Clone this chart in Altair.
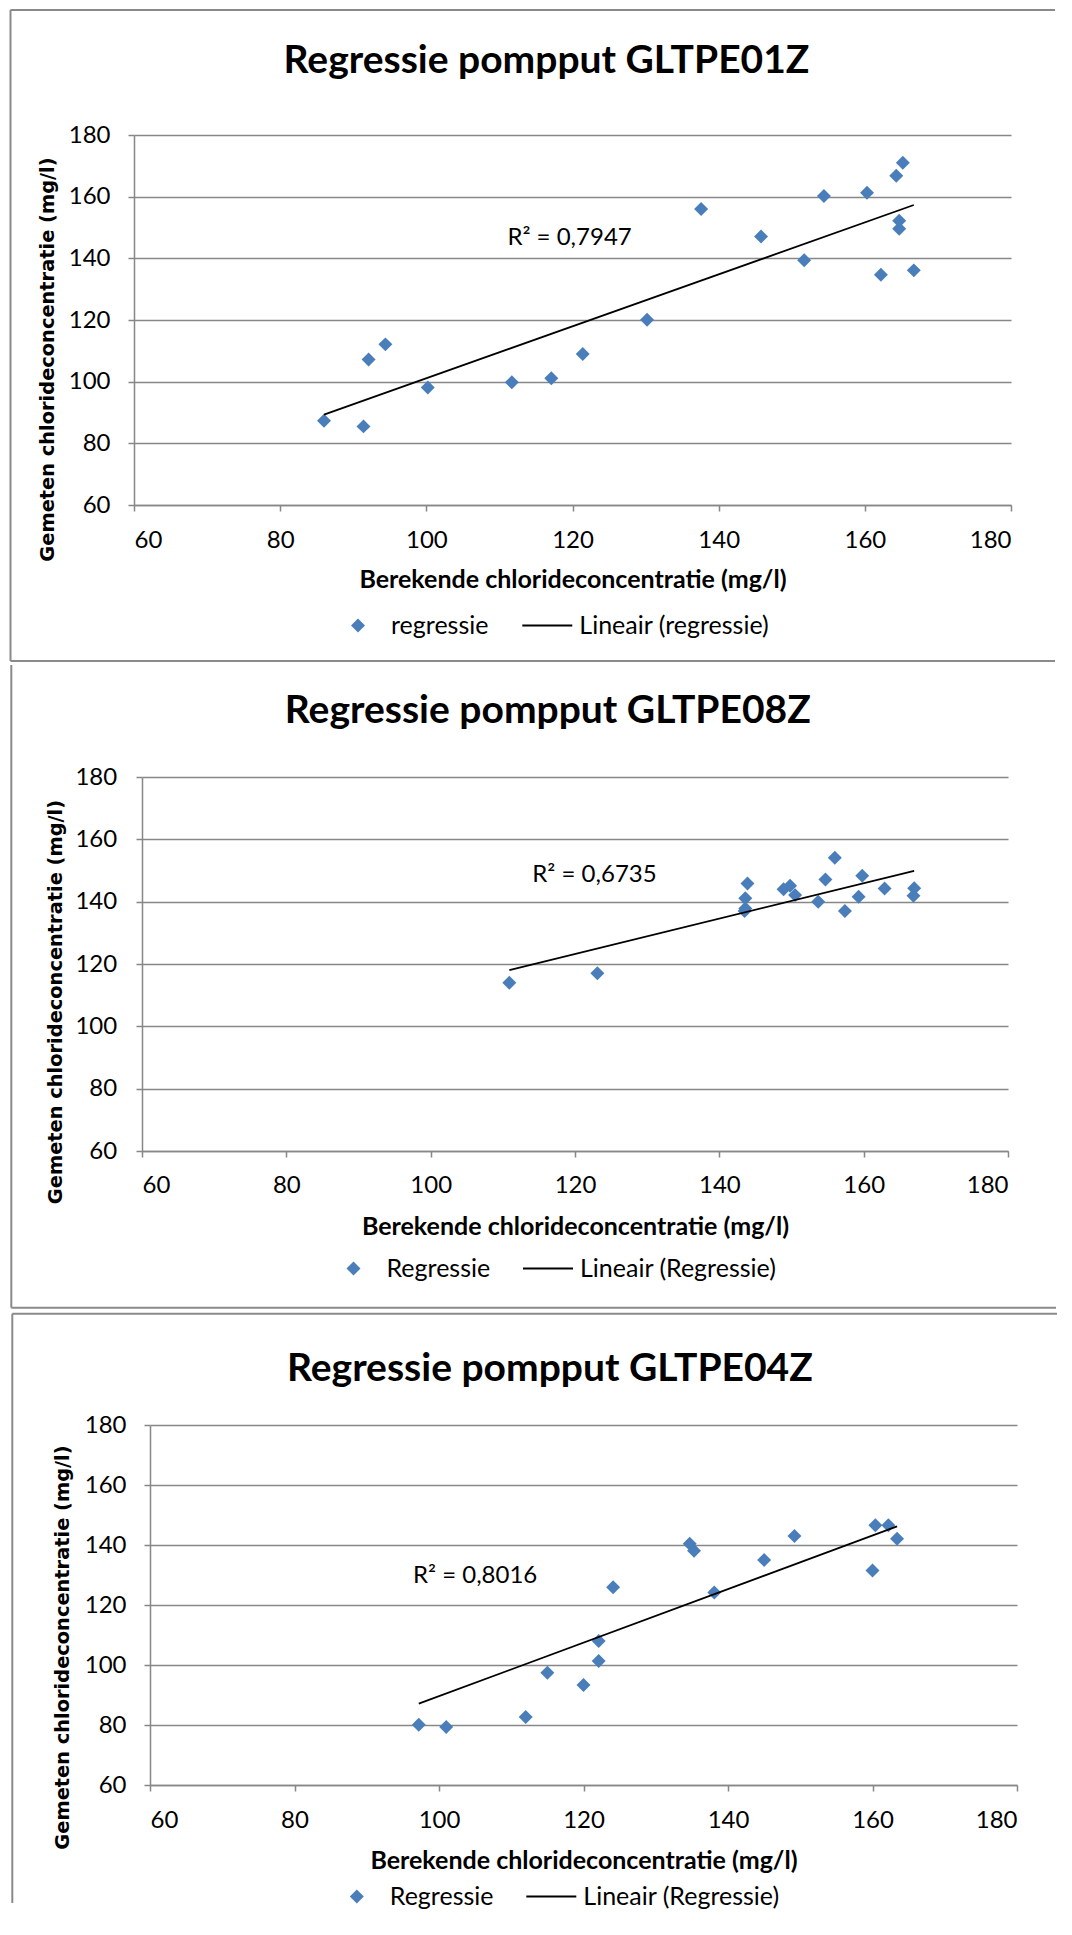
import altair as alt
import pandas as pd

# ---------------- data ----------------
titles = ["Regressie pompput GLTPE01Z", "Regressie pompput GLTPE08Z", "Regressie pompput GLTPE04Z"]
series_names = ["regressie", "Regressie", "Regressie"]
trend_names = ["Lineair (regressie)", "Lineair (Regressie)", "Lineair (Regressie)"]
r2_labels = ["R² = 0,7947", "R² = 0,6735", "R² = 0,8016"]
r2_x = [119.6, 122.7, 105.0]
r2_y = [146.5, 148.5, 129.7]

x_title = "Berekende chlorideconcentratie (mg/l)"
y_title = "Gemeten chlorideconcentratie (mg/l)"
tick_values = [60, 80, 100, 120, 140, 160, 180]

p1_x = [86.0, 91.4, 92.1, 94.4, 100.2, 111.7, 117.1, 121.4, 130.2, 137.6,
        145.8, 151.7, 154.4, 160.3, 162.2, 164.3, 165.2, 164.7, 164.7, 166.7]
p1_y = [87.3, 85.5, 107.2, 112.1, 98.1, 99.8, 101.1, 109.0, 120.1, 156.0,
        147.1, 139.4, 160.2, 161.3, 134.7, 166.8, 171.0, 152.2, 149.6, 136.1]

p2_x = [110.9, 123.1, 143.6, 143.6, 143.9, 143.5, 148.9, 149.8, 150.5, 153.7,
        154.7, 156.0, 157.4, 159.3, 159.8, 162.9, 167.0, 166.9]
p2_y = [114.0, 117.0, 137.8, 141.1, 145.8, 137.0, 144.0, 145.1, 142.1, 140.0,
        147.1, 154.1, 137.0, 141.6, 148.3, 144.2, 144.3, 141.9]

p3_x = [97.2, 101.0, 112.0, 115.0, 120.0, 122.1, 122.1, 124.1, 134.7, 135.3,
        138.1, 145.0, 149.2, 160.0, 160.4, 162.2, 163.4]
p3_y = [80.1, 79.3, 82.7, 97.4, 93.3, 101.3, 108.0, 125.9, 140.4, 138.1,
        124.2, 135.0, 143.0, 131.5, 146.6, 146.6, 142.1]

# trendline end points as drawn in the reference (Excel "Lineair" trendlines)
t1_x = [86.0, 166.7]
t1_y = [89.3, 157.3]
t2_x = [110.9, 167.0]
t2_y = [118.0, 149.9]
t3_x = [97.2, 163.4]
t3_y = [87.1, 146.2]

xs_all = [p1_x, p2_x, p3_x]
ys_all = [p1_y, p2_y, p3_y]
tx_all = [t1_x, t2_x, t3_x]
ty_all = [t1_y, t2_y, t3_y]

# ---------------- styling / layout ----------------
BLUE = "#4A7EBB"
GRID = "#878787"
BORDER = "#8A8A8A"
FONT = "Lato"
TICK_FS = 24
LEG_FS = 25
MARK_SIZE = 195

geoms = [
    dict(w=877, h=370, title_x=412.5, title_y=-74.5, xlab_pad=29.4, xtitle_y=74.5,
         ylab_pad=18, ytitle_x=-86.3, ytitle_y=224.0,
         legA=(211.5, 475.5), legB=(387.3, 475.5),
         hlines=[(-123.5, 921.0, -125), (-123.5, 921.0, 526)],
         vlines=[(-123.5, -125, 526)], spacer=None, shift=0.5),
    dict(w=866, h=374, title_x=405.8, title_y=-66.5, xlab_pad=28.5, xtitle_y=75.3,
         ylab_pad=19.3, ytitle_x=-86.6, ytitle_y=224.5,
         legA=(199.0, 476.5), legB=(380.0, 476.5),
         hlines=[(-130.7, 914.0, 530.8)],
         vlines=[(-130.7, -112, 530.8)], spacer=None, shift=0.5),
    dict(w=867, h=360, title_x=399.9, title_y=-56.5, xlab_pad=29.3, xtitle_y=75.4,
         ylab_pad=18, ytitle_x=-87.1, ytitle_y=222.0,
         legA=(194.3, 456.5), legB=(375.3, 456.5),
         hlines=[(-137.7, 907.0, -111.3)],
         vlines=[(-137.7, -111.3, 478.0)], spacer=-114.3, shift=2.0),
]

one = pd.DataFrame({"k": [0]})


def make_panel(i):
    g = geoms[i]
    name, trend = series_names[i], trend_names[i]
    df = pd.DataFrame({"x": xs_all[i], "y": ys_all[i], "series": [name] * len(xs_all[i])})
    tdf = pd.DataFrame({"x": tx_all[i], "y": ty_all[i], "trend": [trend] * len(tx_all[i])})

    xsc = alt.Scale(domain=[60, 180], nice=False, zero=False)
    ysc = alt.Scale(domain=[60, 180], nice=False, zero=False)

    xax = alt.Axis(values=tick_values, format="d", grid=False,
                   domainColor=GRID, domainWidth=1.5, tickColor=GRID, tickWidth=1.5, tickSize=6,
                   labelFont=FONT, labelFontSize=TICK_FS, labelColor="black",
                   labelPadding=g["xlab_pad"], labelBaseline="middle",
                   title=x_title, titleFont=FONT, titleFontSize=25, titleFontWeight="bold",
                   titleColor="black", titleX=g["w"] / 2, titleY=g["xtitle_y"],
                   titleBaseline="middle", titleAlign="center")
    yax = alt.Axis(values=tick_values, format="d", grid=True, gridColor=GRID, gridWidth=1.5,
                   domainColor=GRID, domainWidth=1.5, tickColor=GRID, tickWidth=1.5, tickSize=6,
                   labelFont=FONT, labelFontSize=TICK_FS, labelColor="black",
                   labelPadding=g["ylab_pad"],
                   title=y_title, titleFont="DejaVu Sans", titleFontSize=19.4,
                   titleFontWeight="bold", titleColor="black",
                   titleX=g["ytitle_x"], titleY=g["ytitle_y"], titleAngle=270,
                   titleBaseline="middle", titleAlign="center")

    legA = alt.Legend(title=None, orient="none", legendX=g["legA"][0], legendY=g["legA"][1],
                      direction="horizontal", labelFont=FONT, labelFontSize=LEG_FS,
                      labelColor="black", labelLimit=400, labelOffset=20.5,
                      padding=0, clipHeight=30, symbolType="diamond", symbolSize=MARK_SIZE)
    legB = alt.Legend(title=None, orient="none", legendX=g["legB"][0], legendY=g["legB"][1],
                      direction="horizontal", labelFont=FONT, labelFontSize=LEG_FS,
                      labelColor="black", labelLimit=400, labelOffset=6,
                      padding=0, clipHeight=30, symbolType="stroke", symbolSize=2500,
                      symbolStrokeWidth=2)

    points = alt.Chart(df).mark_point(shape="diamond", filled=True, size=MARK_SIZE, opacity=1).encode(
        x=alt.X("x:Q", scale=xsc, axis=xax),
        y=alt.Y("y:Q", scale=ysc, axis=yax),
        color=alt.Color("series:N", scale=alt.Scale(domain=[name], range=[BLUE]), legend=legA),
    )

    line = alt.Chart(tdf).mark_line(strokeWidth=1.8).encode(
        x=alt.X("x:Q", scale=xsc),
        y=alt.Y("y:Q", scale=ysc),
        stroke=alt.Stroke("trend:N", scale=alt.Scale(domain=[trend], range=["black"]), legend=legB),
    )

    r2 = alt.Chart(pd.DataFrame({"x": [r2_x[i]], "y": [r2_y[i]], "t": [r2_labels[i]]})).mark_text(
        font=FONT, fontSize=24, color="black", align="center", baseline="middle"
    ).encode(x=alt.X("x:Q", scale=xsc), y=alt.Y("y:Q", scale=ysc), text="t:N")

    ttl = alt.Chart(pd.DataFrame({"t": [titles[i]]})).mark_text(
        font=FONT, fontSize=39, fontWeight="bold", color="black", align="center", baseline="middle"
    ).encode(x=alt.value(g["title_x"]), y=alt.value(g["title_y"]), text="t:N")

    layers = [points, line, r2, ttl]
    for (x1, x2, yy) in g["hlines"]:
        layers.append(alt.Chart(one).mark_rule(color=BORDER, strokeWidth=2).encode(
            x=alt.value(x1), x2=alt.value(x2), y=alt.value(yy)))
    for (xx, y1, y2) in g["vlines"]:
        layers.append(alt.Chart(one).mark_rule(color=BORDER, strokeWidth=2).encode(
            x=alt.value(xx), y=alt.value(y1), y2=alt.value(y2)))
    if g["spacer"] is not None:
        x1 = g["hlines"][0][0]
        layers.append(alt.Chart(one).mark_rule(color=BORDER, strokeWidth=2, strokeOpacity=0).encode(
            x=alt.value(x1), x2=alt.value(x1 + 10), y=alt.value(g["spacer"])))

    panel = alt.layer(*layers).properties(width=g["w"], height=g["h"])

    # tiny invisible spacer so that each panel sits flush at the left of its row
    spacer = alt.Chart(one).mark_rule(strokeOpacity=0, strokeWidth=1).encode(
        x=alt.value(0), x2=alt.value(g["shift"]), y=alt.value(0)
    ).properties(width=1, height=1)

    row = alt.hconcat(spacer, panel, spacing=0).resolve_scale(color="independent", stroke="independent")
    return row


chart = alt.vconcat(make_panel(0), make_panel(1), make_panel(2), spacing=0)
chart = chart.resolve_scale(color="independent", stroke="independent")
chart = chart.properties(padding={"left": -2, "top": 0, "right": 0, "bottom": 0})
chart = chart.configure_view(stroke="transparent")

chart.save("out.html", embed_options={"renderer": "svg", "actions": False})
